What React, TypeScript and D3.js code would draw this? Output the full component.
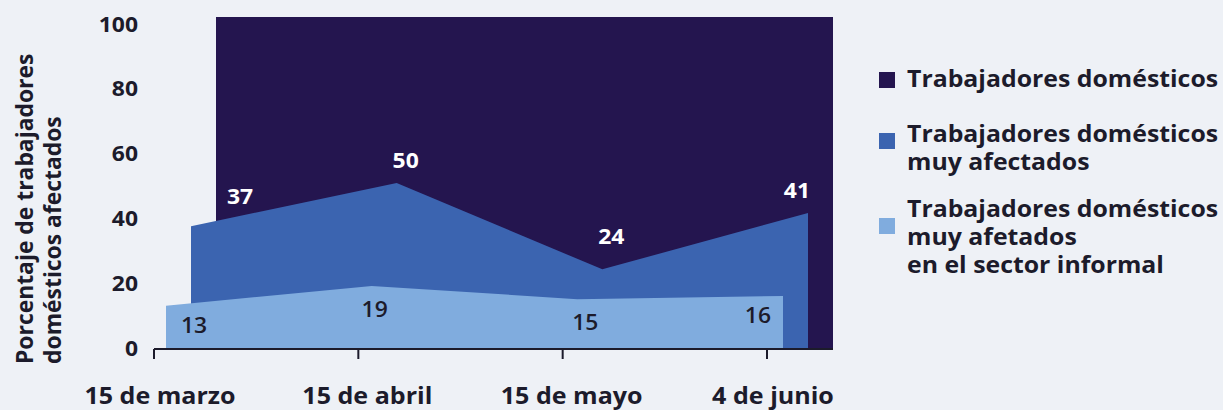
import { useRef, useEffect } from "react";
import { select, scaleLinear, scalePoint, area, line } from "d3";

const dates = ["15 de marzo", "15 de abril", "15 de mayo", "4 de junio"];
const domesticos = [100, 100, 100, 100];
const muyAfectados = [37, 50, 24, 41];
const informal = [13, 19, 15, 16];
const yTicks = [0, 20, 40, 60, 80, 100];

const legendItems = [
  { lines: ["Trabajadores domésticos"], color: "#24154f" },
  { lines: ["Trabajadores domésticos", "muy afectados"], color: "#3b64b0" },
  { lines: ["Trabajadores domésticos", "muy afetados", "en el sector informal"], color: "#80acde" },
];

const width = 1223;
const height = 410;
const FONT = "'Open Sans', 'Noto Sans', sans-serif";
const INK = "#1c1b2b";
// the source artwork is a little wider than it is tall
const STRETCH = 1.09;

function Chart() {
  const svgRef = useRef<SVGSVGElement | null>(null);

  useEffect(() => {
    if (!svgRef.current) return;
    const svg = select(svgRef.current);
    svg.selectAll("*").remove();

    svg.append("rect").attr("width", width).attr("height", height).attr("fill", "#eef1f6");

    const at = (x: number, y: number) => `translate(${x},${y}) scale(${STRETCH},1)`;

    const y = scaleLinear().domain([0, 100]).range([349, 17]);
    // the printed tick labels sit on a slightly tighter scale than the areas
    const yLabel = y.copy().range([348, 24]);
    const xAxis = scalePoint<string>().domain(dates).range([154, 767]);
    const xArea = scalePoint<string>().domain(dates).range([166, 783]);

    const series = [
      { values: domesticos, color: "#24154f", shift: 50 },
      { values: muyAfectados, color: "#3b64b0", shift: 25 },
      { values: informal, color: "#80acde", shift: 0 },
    ];

    type P = { d: string; v: number };
    series.forEach((s) => {
      const pts: P[] = dates.map((d, i) => ({ d, v: s.values[i] }));
      const a = area<P>()
        .x((p) => xArea(p.d)! + s.shift)
        .y0(y(0))
        .y1((p) => y(p.v));
      svg.append("path").attr("d", a(pts)).attr("fill", s.color);
    });

    const n = dates.length;
    const anchor = (i: number) => (i === 0 ? "start" : i === n - 1 ? "end" : "middle");

    // value labels on the blue series
    svg
      .append("g")
      .selectAll("text")
      .data(muyAfectados)
      .join("text")
      .attr("transform", (v, i) => {
        const px = xArea(dates[i])! + 25;
        const lx = i === 0 ? px + 36 : i === n - 1 ? px + 2 : px + 9;
        const ly = y(v) + (i === 0 ? -22 : i === 2 ? -25 : -15);
        return at(lx, ly);
      })
      .attr("text-anchor", (_, i) => anchor(i))
      .attr("fill", "#ffffff")
      .attr("font-family", FONT)
      .attr("font-weight", 700)
      .attr("font-size", 21)
      .text((v) => v);

    svg
      .append("g")
      .selectAll("text")
      .data(informal)
      .join("text")
      .attr("transform", (v, i) => {
        const px = xArea(dates[i])!;
        const lx = i === 0 ? px + 15 : i === n - 1 ? px - 12 : px + (i === 1 ? 3 : 8);
        const ly = y(v) + (i === 0 || i === n - 1 ? 27 : 31);
        return at(lx, ly);
      })
      .attr("text-anchor", (_, i) => anchor(i))
      .attr("fill", INK)
      .attr("font-family", FONT)
      .attr("font-weight", 600)
      .attr("font-size", 21)
      .text((v) => v);

    // x axis
    const axisEnd = xArea(dates[n - 1])! + 50;
    const g = svg.append("g");
    g.append("path")
      .attr("d", line()([[xAxis(dates[0])!, y(0)], [axisEnd, y(0)]]))
      .attr("stroke", INK)
      .attr("stroke-width", 2)
      .attr("fill", "none");
    g.selectAll("line.tick")
      .data(dates)
      .join("line")
      .attr("class", "tick")
      .attr("x1", (d) => xAxis(d)!)
      .attr("x2", (d) => xAxis(d)!)
      .attr("y1", y(0))
      .attr("y2", y(0) + 10)
      .attr("stroke", INK)
      .attr("stroke-width", 2);
    g.selectAll("text")
      .data(dates)
      .join("text")
      .attr("transform", (d, i) => at(xAxis(d)! + (i === 0 || i === n - 1 ? 6 : 9), 404))
      .attr("text-anchor", "middle")
      .attr("fill", INK)
      .attr("font-family", FONT)
      .attr("font-weight", 700)
      .attr("font-size", 23)
      .text((d) => d);

    // y tick labels
    svg
      .append("g")
      .selectAll("text")
      .data(yTicks)
      .join("text")
      .attr("transform", (d) => at(138, yLabel(d)))
      .attr("dy", "0.36em")
      .attr("text-anchor", "end")
      .attr("fill", INK)
      .attr("font-family", FONT)
      .attr("font-weight", 700)
      .attr("font-size", 21)
      .text((d) => d);

    // y title, two lines reading bottom to top
    const titleLines = ["Porcentaje de trabajadores", "domésticos afectados"];
    svg
      .append("g")
      .selectAll("text")
      .data(titleLines)
      .join("text")
      .attr("transform", (_, i) => `translate(${33 + i * 28},364) rotate(-90) scale(1.04,${STRETCH})`)
      .attr("fill", INK)
      .attr("font-family", FONT)
      .attr("font-weight", 700)
      .attr("font-size", 22)
      .text((d) => d);

    // legend
    const starts = [87, 142, 217];
    const lh = 28;
    const lg = svg.append("g");
    legendItems.forEach((item, i) => {
      const base = starts[i];
      const k = item.lines.length;
      const sy = k === 1 ? base - 15 : k === 2 ? base - 9 : base + 1;
      lg.append("rect").attr("x", 879).attr("y", sy).attr("width", 16).attr("height", 16).attr("fill", item.color);
      item.lines.forEach((l, j) => {
        lg.append("text")
          .attr("transform", at(907, base + j * lh))
          .attr("fill", INK)
          .attr("font-family", FONT)
          .attr("font-weight", 700)
          .attr("font-size", 22.8)
          .text(l);
      });
    });
  }, []);

  return <svg ref={svgRef} width={width} height={height} viewBox={`0 0 ${width} ${height}`} style={{ display: "block" }} />;
}

export default function App() {
  return (
    <div style={{ position: "fixed", left: 0, top: 0, width, height }}>
      <Chart />
    </div>
  );
}
